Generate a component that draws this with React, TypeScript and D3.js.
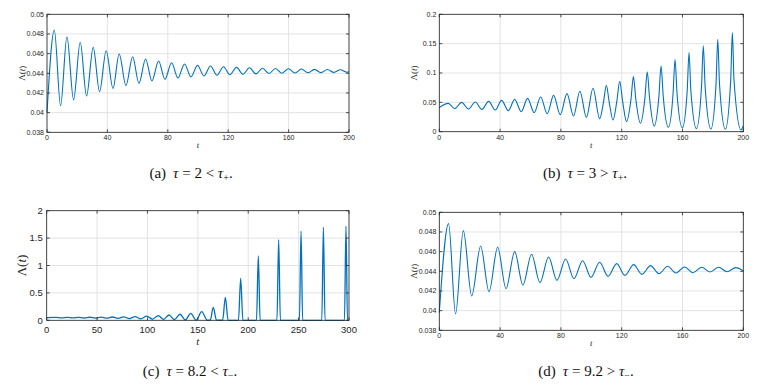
import React from "react";
import * as d3 from "d3";

// values: [t, Lambda(t)] at turning points (and a few flank points)
const seriesA: [number, number][] = [
  [0, 0.04], [4.85, 0.0484], [9.0, 0.0407], [13.2, 0.0477], [17.6, 0.0413], [22.0, 0.04715],
  [26.2, 0.0417], [30.6, 0.04664], [34.8, 0.04214], [39.2, 0.0463], [43.7, 0.04247], [47.8, 0.04597],
  [52.3, 0.04275], [56.7, 0.04569], [60.9, 0.04298], [65.3, 0.04546], [69.5, 0.04322], [73.9, 0.04525],
  [78.1, 0.04339], [82.5, 0.04508], [86.7, 0.04353], [91.1, 0.04495], [95.3, 0.04363], [99.7, 0.04481],
  [103.9, 0.04373], [108.3, 0.04475], [112.5, 0.0438], [116.9, 0.04466], [121.1, 0.04385], [125.5, 0.0446],
  [129.8, 0.0439], [134.1, 0.04456], [138.4, 0.04394], [142.7, 0.04452], [147, 0.04398], [151.3, 0.04449],
  [155.6, 0.04401], [159.9, 0.04446], [164.2, 0.04403], [168.5, 0.04443], [172.8, 0.04405], [177.1, 0.0444],
  [181.4, 0.04407], [185.7, 0.04438], [190, 0.04409], [194.3, 0.04436], [198.6, 0.04411], [200, 0.04416],
];

const seriesB: [number, number][] = [
  [0, 0.0412], [5.9, 0.0483], [10.1, 0.0392], [14.7, 0.05], [19.2, 0.0386], [23.7, 0.0506], [28, 0.038],
  [32.5, 0.0517], [36.8, 0.0369], [41, 0.0534], [45.4, 0.0358], [49.6, 0.0551], [53.9, 0.0341],
  [58.1, 0.0568], [62.4, 0.0324], [66.7, 0.0591], [71, 0.0307], [75.2, 0.0619], [79.6, 0.029],
  [84, 0.0648], [88.3, 0.0267], [92.5, 0.0688], [96.8, 0.0244], [101.1, 0.0739], [105.5, 0.0222],
  [108, 0.05], [109.9, 0.079], [111.8, 0.05], [114.3, 0.0199],
  [116.8, 0.052], [118.7, 0.0858], [120.6, 0.052], [123.2, 0.0172],
  [126.1, 0.055], [127.7, 0.0938], [129.3, 0.055], [132.3, 0.0145],
  [135.3, 0.058], [136.8, 0.102], [138.3, 0.058], [141.4, 0.0097],
  [144.5, 0.061], [145.9, 0.112], [147.3, 0.061], [150.7, 0.0075],
  [153.8, 0.065], [155.1, 0.123], [156.4, 0.065], [159.9, 0.0064],
  [163.1, 0.07], [164.3, 0.135], [165.5, 0.07], [169.2, 0.0053],
  [172.5, 0.076], [173.7, 0.1465], [174.9, 0.076], [178.7, 0.0047],
  [182.05, 0.081], [183.2, 0.1576], [184.35, 0.081], [188.2, 0.0041],
  [191.7, 0.087], [192.8, 0.1687], [193.9, 0.087], [198.5, 0.003], [200, 0.0097],
];

const seriesC: [number, number][] = [
  [0, 0.047], [9.2, 0.053], [14.8, 0.044], [20.4, 0.054], [26, 0.043], [31.6, 0.055], [37.2, 0.042],
  [42.8, 0.056], [48.4, 0.04], [54, 0.058], [59.6, 0.038], [65.2, 0.06], [70.8, 0.035], [76.4, 0.063],
  [82, 0.031], [87.6, 0.067], [93.4, 0.027], [99.2, 0.075], [105, 0.022], [110.7, 0.085], [116, 0.017],
  [121.4, 0.097], [126.8, 0.012], [132.3, 0.11], [137.6, 0.007], [142.9, 0.128], [148.3, 0.003],
  [153.8, 0.158], [159.5, 0.001], [162.3, 0.003], [165.3, 0.235], [168.5, 0.002], [174.6, 0.001],
  [177.3, 0.42], [180, 0.001], [190.3, 0], [192.5, 0.766], [194.7, 0], [208.2, 0], [210, 1.173],
  [211.8, 0], [228.5, 0], [230.2, 1.471], [231.9, 0], [250.8, 0], [252.4, 1.629], [254, 0],
  [273, 0], [274.6, 1.696], [276.2, 0], [295.5, 0], [297, 1.72], [298.5, 0], [300, 0],
];

const seriesD: [number, number][] = [
  [0, 0.0398], [6.1, 0.04885], [10.7, 0.03966], [15.8, 0.04814], [21.3, 0.04149], [27.2, 0.04658],
  [32.7, 0.04193], [38.4, 0.04644], [43.9, 0.04224], [49.6, 0.046], [55.0, 0.04261], [60.7, 0.04573],
  [66.2, 0.04285], [71.9, 0.04546], [77.4, 0.04308], [83.1, 0.04525], [88.6, 0.04325], [94.3, 0.04508],
  [99.8, 0.04339], [105.5, 0.04492], [111, 0.04349], [116.7, 0.04478], [122.1, 0.04359], [127.9, 0.04468],
  [133.3, 0.04369], [139, 0.04458], [144.5, 0.04376], [150.2, 0.04451], [155.7, 0.04383], [161.4, 0.04444],
  [166.9, 0.04386], [172.6, 0.04441], [178.1, 0.04393], [183.8, 0.04441], [189.3, 0.04396], [195, 0.04437],
  [200, 0.04403],
];

const ticks200 = [0, 40, 80, 120, 160, 200];
const ticks300 = [0, 50, 100, 150, 200, 250, 300];
const ticksSmallY = [0.038, 0.04, 0.042, 0.044, 0.046, 0.048, 0.05];
const labelsSmallY = ["0.038", "0.04", "0.042", "0.044", "0.046", "0.048", "0.05"];
const ticksB = [0, 0.05, 0.1, 0.15, 0.2];
const labelsB = ["0", "0.05", "0.1", "0.15", "0.2"];
const ticksC = [0, 0.5, 1, 1.5, 2];
const labelsC = ["0", "0.5", "1", "1.5", "2"];

const BLUE = "#0072bd";
const AX = "#262626";
const GRID = "#e3e3e3";
const SANS = "'Liberation Sans', Arial, sans-serif";
const SERIF = "'Liberation Serif', 'Times New Roman', serif";

type PanelProps = {
  box: [number, number, number, number];
  xMax: number;
  yDomain: [number, number];
  xTicks: number[];
  yTicks: number[];
  yLabels: string[];
  data: [number, number][];
  fs: number;
  lfs: number;
  yfs: number;
  big?: boolean;
};

const Panel = ({ box, xMax, yDomain, xTicks, yTicks, yLabels, data, fs, lfs, yfs, big }: PanelProps) => {
  const [x0, y0, x1, y1] = box;
  const xs = d3.scaleLinear().domain([0, xMax]).range([x0, x1]);
  const ys = d3.scaleLinear().domain(yDomain).range([y1, y0]);
  const line = d3
    .line<[number, number]>()
    .x((d) => xs(d[0]))
    .y((d) => ys(d[1]))
    .curve(d3.curveMonotoneX);
  const tl = 3;
  return (
    <g>
      <rect x={x0} y={y0} width={x1 - x0} height={y1 - y0} fill="#fff" />
      {xTicks.map((t) => (
        <line key={"gx" + t} x1={xs(t)} x2={xs(t)} y1={y0} y2={y1} stroke={GRID} strokeWidth={1} />
      ))}
      {yTicks.map((t) => (
        <line key={"gy" + t} x1={x0} x2={x1} y1={ys(t)} y2={ys(t)} stroke={GRID} strokeWidth={1} />
      ))}
      <path d={line(data) ?? ""} fill="none" stroke={BLUE} strokeWidth={big ? 1.3 : 1.1} />
      <rect x={x0} y={y0} width={x1 - x0} height={y1 - y0} fill="none" stroke={AX} strokeWidth={0.8} />
      {xTicks.map((t) => (
        <g key={"tx" + t}>
          <line x1={xs(t)} x2={xs(t)} y1={y1} y2={y1 - tl} stroke={AX} strokeWidth={0.8} />
          <line x1={xs(t)} x2={xs(t)} y1={y0} y2={y0 + tl} stroke={AX} strokeWidth={0.8} />
          <text x={xs(t)} y={y1 + (big ? 13 : 8)} fontSize={fs} fontFamily={SANS} fill={AX} textAnchor="middle">
            {t}
          </text>
        </g>
      ))}
      {yTicks.map((t, i) => (
        <g key={"ty" + t}>
          <line x1={x0} x2={x0 + tl} y1={ys(t)} y2={ys(t)} stroke={AX} strokeWidth={0.8} />
          <line x1={x1} x2={x1 - tl} y1={ys(t)} y2={ys(t)} stroke={AX} strokeWidth={0.8} />
          <text x={x0 - (big ? 4 : 3)} y={ys(t) + fs * 0.35} fontSize={fs} fontFamily={SANS} fill={AX} textAnchor="end">
            {yLabels[i]}
          </text>
        </g>
      ))}
      <text x={(x0 + x1) / 2} y={y1 + (big ? 25 : 16)} fontSize={lfs} fontFamily={SERIF} fontStyle="italic" fill={AX} textAnchor="middle">
        t
      </text>
      <text
        transform={`translate(${x0 - (big ? 21 : 22.5)},${(y0 + y1) / 2}) rotate(-90)`}
        fontSize={yfs}
        fontFamily={SERIF}
        fill={AX}
        textAnchor="middle"
      >
        <tspan>Λ(</tspan>
        <tspan fontStyle="italic">t</tspan>
        <tspan>)</tspan>
      </text>
    </g>
  );
};

const Caption = ({ x, y, tag, val, rel, sub }: { x: number; y: number; tag: string; val: string; rel: string; sub: string }) => (
  <text x={x} y={y} fontSize={15} fontFamily={SERIF} fill="#111" textAnchor="middle">
    ({tag})
    <tspan dx={7} fontStyle="italic">τ</tspan>
    <tspan> = {val} {rel} </tspan>
    <tspan fontStyle="italic">τ</tspan>
    <tspan dy={3} fontSize={10}>{sub}</tspan>
    <tspan dy={-3}>.</tspan>
  </text>
);

export default function App() {
  return (
    <svg width={767} height={387} style={{ position: "absolute", left: 0, top: 0, background: "#fff" }}>
      <rect width={767} height={387} fill="#fff" />
      <Panel box={[47, 14.3, 349, 132.3]} xMax={200} yDomain={[0.038, 0.05]} xTicks={ticks200} yTicks={ticksSmallY} yLabels={labelsSmallY} data={seriesA} fs={7} lfs={8.5} yfs={9} />
      <Panel box={[439.3, 14.3, 743.3, 131.7]} xMax={200} yDomain={[0, 0.2]} xTicks={ticks200} yTicks={ticksB} yLabels={labelsB} data={seriesB} fs={7} lfs={8.5} yfs={9} />
      <Panel box={[46.7, 210.7, 349, 320.3]} xMax={300} yDomain={[0, 2]} xTicks={ticks300} yTicks={ticksC} yLabels={labelsC} data={seriesC} fs={9.5} lfs={11} yfs={13} big />
      <Panel box={[439.3, 212.3, 743.3, 330.3]} xMax={200} yDomain={[0.038, 0.05]} xTicks={ticks200} yTicks={ticksSmallY} yLabels={labelsSmallY} data={seriesD} fs={7} lfs={8.5} yfs={9} />
      <Caption x={191} y={178} tag="a" val="2" rel="<" sub="+" />
      <Caption x={585} y={178} tag="b" val="3" rel=">" sub="+" />
      <Caption x={190} y={376} tag="c" val="8.2" rel="<" sub="−" />
      <Caption x={586} y={376} tag="d" val="9.2" rel=">" sub="−" />
    </svg>
  );
}
